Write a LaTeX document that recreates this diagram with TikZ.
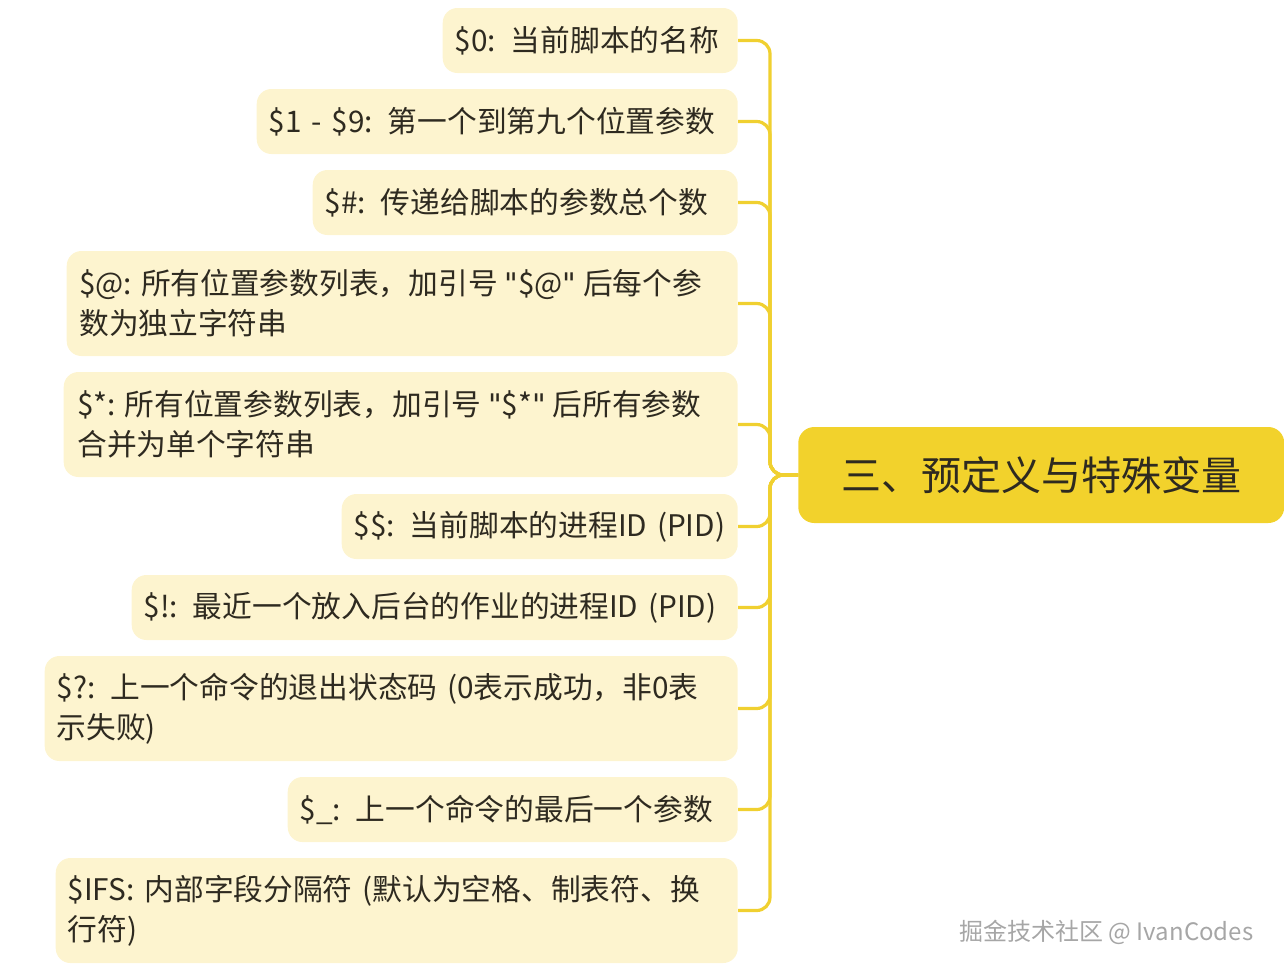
\documentclass[tikz,border=0pt]{standalone}
\usepackage{fontspec}
\setmainfont[Ligatures=NoCommon]{Noto Sans CJK SC}
\newfontfamily\qf{DejaVu Sans}
\definecolor{leaffill}{HTML}{FDF4CF}
\definecolor{rootfill}{HTML}{F2D22C}
\definecolor{linec}{HTML}{F0D030}
\definecolor{txt}{HTML}{2E2A20}
\newcommand\qq{{\qf\symbol{"22}}}
\begin{document}
\begin{tikzpicture}[x=0.75pt,y=-0.75pt,
  leaf/.style={fill=leaffill,rounded corners=11pt,anchor=east,inner sep=0pt,font=\fontsize{22.3pt}{30pt}\selectfont,text=txt,align=left},
  conn/.style={draw=linec,line width=2.4pt,rounded corners=10pt}]
\useasboundingbox (0,0) rectangle (1284,972);
\node[fill=rootfill,rounded corners=12pt,minimum width=486*0.75pt,minimum height=96*0.75pt,anchor=west,font=\fontsize{30pt}{36pt}\selectfont,text=txt] (root) at (798,475) {三、预定义与特殊变量};
\newcommand\leafnode[5]{\node[leaf,minimum width=#2*0.75pt,minimum height=#4*0.75pt,text width=#2*0.75pt-24*0.75pt] (#1) at (738,#3) {#5};}
\newcommand\leafwide[5]{\node[leaf,minimum width=#2*0.75pt,minimum height=#4*0.75pt,text width=#2*0.75pt+40*0.75pt,xshift=-12*0.75pt] (#1x) at (738,#3) {#5};
  \node[inner sep=0pt,minimum width=#2*0.75pt,minimum height=#4*0.75pt,anchor=east,fill=leaffill,rounded corners=11pt] (#1) at (738,#3) {};}
\leafnode{n1}{295}{40.5}{65}{\$0: 当前脚本的名称}
\leafnode{n2}{481}{121.5}{65}{\$1 - \$9: 第一个到第九个位置参数}
\leafnode{n3}{425}{202.5}{65}{\$\#: 传递给脚本的参数总个数}
\node[leaf,minimum width=671*0.75pt,minimum height=105*0.75pt] (n4) at (738,303.5) {};
\node[anchor=west,align=left,inner sep=0pt,font=\fontsize{22.3pt}{30pt}\selectfont,text=txt] (t4) at (79,303.5) {\$@: 所有位置参数列表，加引号 \qq\$@\qq{} 后每个参\\数为独立字符串};
\node[leaf,minimum width=674*0.75pt,minimum height=105*0.75pt] (n5) at (738,424.5) {};
\node[anchor=west,align=left,inner sep=0pt,font=\fontsize{22.3pt}{30pt}\selectfont,text=txt] (t5) at (77,424.5) {\$*: 所有位置参数列表，加引号 \qq\$*\qq{} 后所有参数\\合并为单个字符串};
\leafnode{n6}{396}{526.5}{65}{\$\$: 当前脚本的进程ID (PID)}
\leafnode{n7}{606}{607.5}{65}{\$!: 最近一个放入后台的作业的进程ID (PID)}
\leafnode{n8}{693}{708.5}{105}{\$?: 上一个命令的退出状态码 (0表示成功，非0表\\示失败)}
\leafnode{n9}{450}{809.5}{65}{\$\_: 上一个命令的最后一个参数}
\leafnode{n10}{682}{910.5}{105}{\$IFS: 内部字段分隔符 (默认为空格、制表符、换\\行符)}
\foreach \n/\yy in {n1/40.5,n2/121.5,n3/202.5,n4/303.5,n5/424.5,n6/526.5,n7/607.5,n8/708.5,n9/809.5,n10/910.5}{
  \draw[conn] (root.west) -- (770,475) -- (770,\yy) -- (\n.east);
}
\node[anchor=east,text=gray!70,font=\fontsize{18pt}{20pt}\selectfont] (wm) at (1258,932) {掘金技术社区 @ IvanCodes};
\end{tikzpicture}
\end{document}
